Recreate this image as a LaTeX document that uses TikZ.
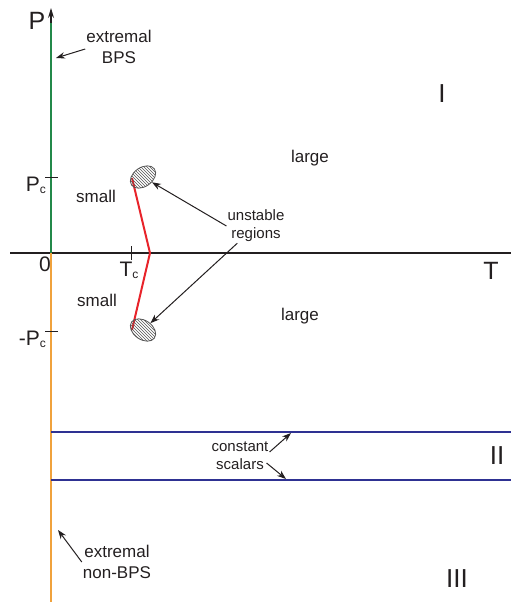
\documentclass[tikz,border=0pt]{standalone}
\usepackage{fontspec}
\setmainfont{Liberation Sans}
\usepackage{xcolor}
\definecolor{cAxis}{HTML}{231F20}
\definecolor{cBPS}{HTML}{23894A}
\definecolor{cNonBPS}{HTML}{F0A23C}
\definecolor{cCrit}{HTML}{E8232A}
\definecolor{cScalar}{HTML}{2E3192}
\definecolor{cGray}{HTML}{555555}
\usepackage{tikz}
\usetikzlibrary{arrows.meta,shapes.geometric,patterns,calc}
\tikzset{
  axis-line/.style={line width=1.2pt,draw=cAxis},
  tick/.style={line width=1pt,draw=cAxis},
  branch-bps/.style={line width=2.4pt,draw=cBPS},
  branch-nonbps/.style={line width=2.4pt,draw=cNonBPS},
  crit-line/.style={line width=2pt,draw=cCrit,line join=miter},
  scalar-line/.style={line width=2pt,draw=cScalar},
  region/.style={ellipse,draw=cGray,line width=0.8pt,minimum width=28pt,
    minimum height=19pt,inner sep=0pt,pattern=north west lines,pattern color=cGray},
  arrow/.style={-{Stealth[length=9pt,width=6.5pt]},line width=1pt,draw=cAxis},
  lbl-axis/.style={font=\fontsize{25}{25}\selectfont,text=cAxis,inner sep=1pt},
  lbl-num/.style={font=\fontsize{21}{21}\selectfont,text=cAxis,inner sep=1pt},
  lbl-phase/.style={font=\fontsize{17}{21}\selectfont,text=cAxis,align=center,inner sep=1pt},
  lbl-note/.style={font=\fontsize{15}{18}\selectfont,text=cAxis,align=center,inner sep=1pt},
  lbl-roman/.style={font=\fontsize{26}{26}\selectfont,text=cAxis,inner sep=1pt},
}
\newcommand{\subc}{\raisebox{-2pt}{\fontsize{12}{12}\selectfont c}}

\begin{document}
\begin{tikzpicture}[x=1pt,y=-1pt]
  \useasboundingbox (0,0) rectangle (511,602);
  \coordinate (O) at (51,253);
  \coordinate (Ptop) at (51,8);
  \coordinate (Pbot) at (51,602);
  \coordinate (Tbeg) at (10,253);
  \coordinate (Tend) at (511,253);
  % axes and the two extremal branches
  \draw[axis-line] (Tbeg) -- (Tend);
  \draw[branch-nonbps] (O) -- (Pbot);
  \draw[branch-bps] (O) -- (51,21);
  \draw[axis-line,-{Stealth[length=10pt,width=6pt]}] (51,23) -- (Ptop);
  \draw[tick] (45,177) -- (58,177);
  \draw[tick] (45,331) -- (58,331);
  \draw[tick] (131,246) -- (131,260);
  \node[lbl-axis] (P) at (37,21) {P};
  \node[lbl-axis] (T) at (491,271) {T};
  \node[lbl-num] (zero) at (45,264) {0};
  \node[lbl-num,anchor=east] (Pc) at (47,185) {P\subc};
  \node[lbl-num,anchor=east] (mPc) at (47,339) {-P\subc};
  \node[lbl-num] (Tc) at (129,270) {T\subc};
  % constant scalar lines
  \draw[scalar-line] (51,432) -- (511,432);
  \draw[scalar-line] (51,480) -- (511,480);
  \coordinate (csTop) at (291,433);
  \coordinate (csBot) at (286,479);
  % critical line and unstable regions
  \coordinate (cTop) at (132,178);
  \coordinate (cApex) at (150,253);
  \coordinate (cBot) at (132,330);
  \draw[crit-line] (cTop) -- (cApex) -- (cBot);
  \node[region,rotate=35] (ellTop) at (143,177) {};
  \node[region,rotate=-35] (ellBot) at (143,330) {};
  % labels
  \node[lbl-phase] (smallUp) at (96,196) {small};
  \node[lbl-phase] (smallDn) at (97,300) {small};
  \node[lbl-phase] (largeUp) at (310,158) {large};
  \node[lbl-phase] (largeDn) at (300,316) {large};
  \node[lbl-roman] (rI) at (442,94) {I};
  \node[lbl-roman] (rII) at (497,456) {II};
  \node[lbl-roman] (rIII) at (457,579) {III};
  \node[lbl-note] (unst) at (256,226) {unstable\\regions};
  \node[lbl-note] (cs) at (240,456) {constant\\scalars};
  \node[lbl-phase] (bps) at (119,47) {extremal\\BPS};
  \node[lbl-phase] (nbps) at (117,562) {extremal\\non-BPS};
  \coordinate (aBPS) at (56,58);
  \coordinate (aNBPS) at (58,530);
  % pointers
  \draw[arrow] (unst.west) -- (ellTop);
  \draw[arrow] (unst) -- (ellBot);
  \draw[arrow] ([yshift=4pt]cs.east) -- (csTop);
  \draw[arrow] ([xshift=-3pt,yshift=-7pt]cs.east) -- (csBot);
  \draw[arrow] ([yshift=-2pt]bps.west) -- (aBPS);
  \draw[arrow] (nbps.west) -- (aNBPS);
\end{tikzpicture}
\end{document}
